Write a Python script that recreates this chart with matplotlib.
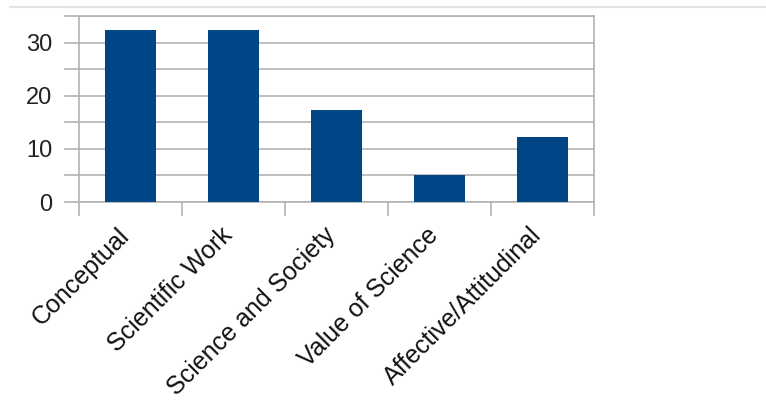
import matplotlib
matplotlib.use("Agg")
import matplotlib.pyplot as plt
from matplotlib.lines import Line2D
import numpy as np

categories = ["Conceptual", "Scientific Work", "Science and Society",
              "Value of Science", "Affective/Attitudinal"]
values = [32.4, 32.4, 17.4, 5.0, 12.2]

plt.rcParams["font.family"] = ["Liberation Sans", "DejaVu Sans"]

grid_color = "#b3b3b3"
bar_color = "#004586"

fig = plt.figure(figsize=(7.66, 4.01), dpi=100)
ax = fig.add_axes([79 / 766, 1 - 202 / 401, 515 / 766, 186 / 401])

x = np.arange(len(categories))
ax.bar(x, values, width=0.5, color=bar_color, zorder=3)

ax.set_xlim(-0.5, len(categories) - 0.5)
ax.set_ylim(0, 35)

# y axis: major ticks every 10, minor every 5, all with gridlines
ax.set_yticks([0, 10, 20, 30])
ax.set_yticks([5, 15, 25, 35], minor=True)
ax.yaxis.grid(True, which="both", color=grid_color, linewidth=1.2, zorder=0)
ax.tick_params(axis="y", which="both", length=11, width=1.2, color=grid_color,
               labelsize=17, labelcolor="#222222", pad=8)

# x axis: labels at bar centres (baseline ends at the centre), ticks at boundaries
ax.set_xticks(x)
ax.set_xticklabels(categories, rotation=45, ha="right", va="baseline",
                   rotation_mode="anchor", fontsize=18, color="#111111")
ax.set_xticks(np.arange(-0.5, len(categories)), minor=True)
ax.tick_params(axis="x", which="major", length=0, pad=25)
ax.tick_params(axis="x", which="minor", length=10, width=1.2, color=grid_color)

for side in ["left", "right", "top", "bottom"]:
    ax.spines[side].set_color(grid_color)
    ax.spines[side].set_linewidth(1.2)

# thin separator line at the top of the image
fig.add_artist(Line2D([10 / 766, 1.0], [1 - 7 / 401, 1 - 7 / 401],
                      color="#e3e3e3", linewidth=1.5, transform=fig.transFigure))

fig.savefig("out.png", dpi=100)
